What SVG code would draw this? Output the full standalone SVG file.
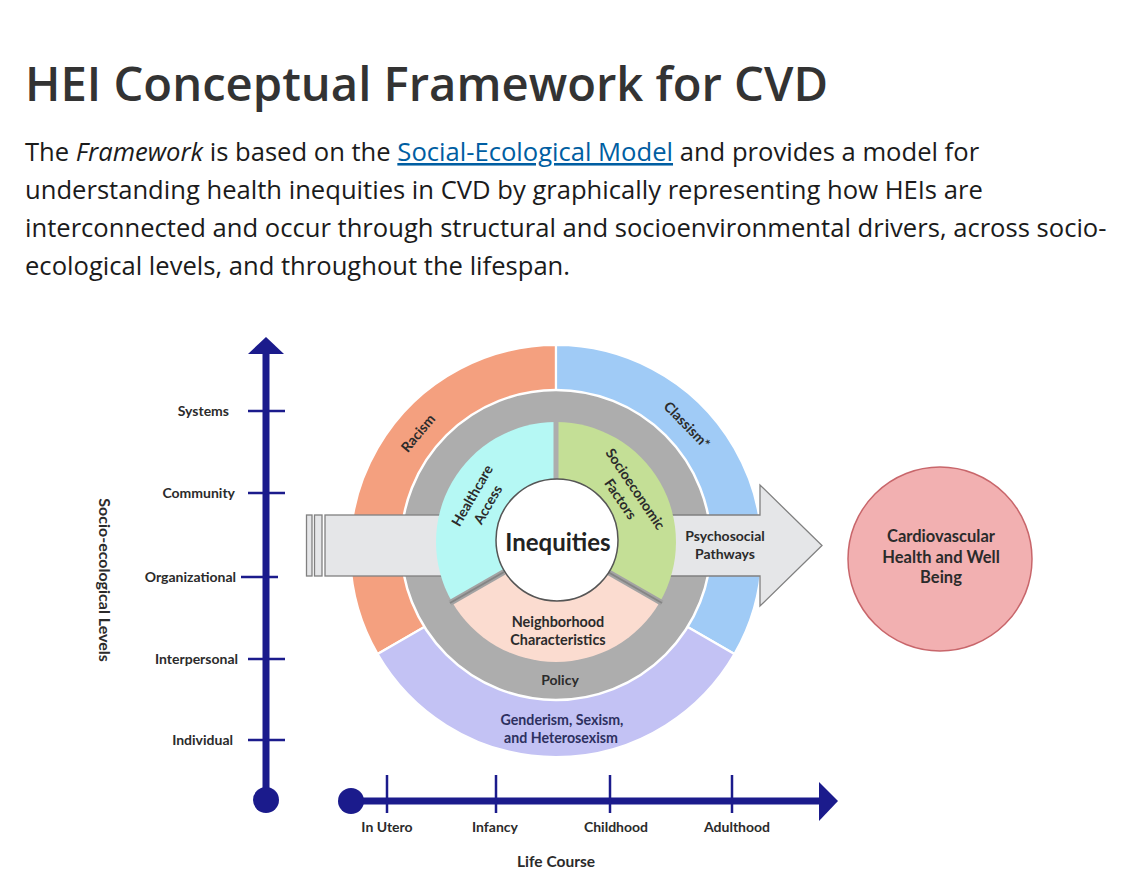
<svg xmlns="http://www.w3.org/2000/svg" width="1124" height="885" viewBox="0 0 1124 885">
<style>
.title{font-family:"Open Sans","Liberation Sans",sans-serif;font-weight:600;font-size:47.2px;fill:#333333}
.body{font-family:"Open Sans","Liberation Sans",sans-serif;font-size:25.6px;fill:#1b1b1b}
.lbl{font-family:Lato,"Liberation Sans",sans-serif;font-weight:700;font-size:14px;fill:#2b2b2b}
.c{text-anchor:middle}
.e{text-anchor:end}
.axis{stroke:#1b1b8c;fill:none}
.tick{stroke:#1b1b8c;stroke-width:2.5}
.arr{fill:#e5e6e8;stroke:#808080;stroke-width:1.3}
.sep{stroke:#ffffff;stroke-width:2.2}
</style>
<rect width="1124" height="885" fill="#ffffff"/>

<g id="heading">
<text class="title" x="25" y="101">HEI Conceptual Framework for CVD</text>
<text class="body" x="25" y="161">The <tspan font-style="italic">Framework</tspan> is based on the <tspan fill="#005ea2" text-decoration="underline">Social-Ecological Model</tspan> and provides a model for</text>
<text class="body" x="25" y="199">understanding health inequities in CVD by graphically representing how HEIs are</text>
<text class="body" x="25" y="237">interconnected and occur through structural and socioenvironmental drivers, across socio-</text>
<text class="body" x="25" y="275">ecological levels, and throughout the lifespan.</text>
</g>

<g id="outer-ring">
<path id="racism" d="M556 551 L377.6 654 A206 206 0 0 1 556 345 Z" fill="#f4a07f" class="sep"/>
<path id="classism" d="M556 551 L556 345 A206 206 0 0 1 734.4 654 Z" fill="#a0cbf6" class="sep"/>
<path id="genderism" d="M556 551 L734.4 654 A206 206 0 0 1 377.6 654 Z" fill="#c3c2f4" class="sep"/>
</g>

<g id="policy">
<circle cx="556" cy="545" r="155" fill="#adadad" stroke="#ffffff" stroke-width="2.5"/>
</g>

<g id="connectors">
<g id="left-arrow">
<rect class="arr" x="306.5" y="515" width="5.5" height="61"/>
<rect class="arr" x="314.5" y="515" width="7.5" height="61"/>
<rect class="arr" x="325" y="515" width="170" height="61"/>
</g>
<path id="right-arrow" class="arr" d="M640 515 L760 515 L760 485 L822 545.5 L760 606 L760 576 L640 576 Z"/>
</g>

<g id="inner-sectors">
<path id="healthcare" d="M556 542 L452.1 602 A120 120 0 0 1 556 422 Z" fill="#b5f8f4"/>
<path id="socioeconomic" d="M556 542 L556 422 A120 120 0 0 1 659.9 602 Z" fill="#c4df96"/>
<path id="neighborhood" d="M556 542 L659.9 602 A120 120 0 0 1 452.1 602 Z" fill="#fbdcd0"/>
<line x1="556" y1="420" x2="556" y2="485" stroke="#adadad" stroke-width="5"/>
<line x1="504" y1="572" x2="450" y2="603" stroke="#a3a3a3" stroke-width="6"/>
<line x1="504" y1="572" x2="450" y2="603" stroke="#858585" stroke-width="2"/>
<line x1="608" y1="572" x2="662" y2="603" stroke="#a3a3a3" stroke-width="6"/>
<line x1="608" y1="572" x2="662" y2="603" stroke="#858585" stroke-width="2"/>
</g>

<g id="inequities">
<circle cx="557" cy="540" r="61" fill="#ffffff" stroke="#555555" stroke-width="1.5"/>
<text class="lbl c" x="558" y="551" style="font-size:24px;fill:#222">Inequities</text>
</g>

<g id="ring-labels">
<text class="lbl c" transform="translate(418 433) rotate(-50)" y="5">Racism</text>
<text class="lbl c" transform="translate(687 425) rotate(46)" y="5">Classism*</text>
<text class="lbl c" transform="translate(480 500) rotate(-60)"><tspan x="0" y="-4">Healthcare</tspan><tspan x="0" y="14">Access</tspan></text>
<text class="lbl c" transform="translate(628 494) rotate(56)"><tspan x="0" y="-4">Socioeconomic</tspan><tspan x="0" y="14">Factors</tspan></text>
<text class="lbl c" x="558" y="627" style="font-size:14.4px">Neighborhood</text>
<text class="lbl c" x="558" y="645" style="font-size:14.4px">Characteristics</text>
<text class="lbl c" x="560" y="685">Policy</text>
<text class="lbl c" x="562" y="725" style="fill:#2d3060;font-size:14.2px">Genderism, Sexism,</text>
<text class="lbl c" x="561" y="743" style="fill:#2d3060;font-size:14.2px">and Heterosexism</text>
<text class="lbl c" x="725" y="541">Psychosocial</text>
<text class="lbl c" x="725" y="559">Pathways</text>
</g>

<g id="cvd">
<circle cx="940" cy="559" r="92" fill="#f2b0b1" stroke="#c8666b" stroke-width="1.5"/>
<text class="lbl c" x="941" y="542" style="font-size:16.5px">Cardiovascular</text>
<text class="lbl c" x="941" y="563" style="font-size:16.5px">Health and Well</text>
<text class="lbl c" x="941" y="583" style="font-size:16.5px">Being</text>
</g>

<g id="levels-axis">
<line class="axis" x1="266" y1="352" x2="266" y2="800" stroke-width="7"/>
<polygon points="266,337 284,354 248,354" fill="#1b1b8c"/>
<circle cx="266" cy="800" r="13" fill="#1b1b8c"/>
<line class="tick" x1="248" y1="411" x2="285" y2="411"/>
<line class="tick" x1="248" y1="493" x2="285" y2="493"/>
<line class="tick" x1="241" y1="577" x2="278" y2="577"/>
<line class="tick" x1="248" y1="659" x2="285" y2="659"/>
<line class="tick" x1="248" y1="740" x2="285" y2="740"/>
<text class="lbl e" x="229" y="416">Systems</text>
<text class="lbl e" x="235" y="498">Community</text>
<text class="lbl e" x="236" y="582">Organizational</text>
<text class="lbl e" x="238" y="664">Interpersonal</text>
<text class="lbl e" x="233" y="745">Individual</text>
<text class="lbl c" transform="translate(104 580) rotate(90)" y="5" style="font-size:16px">Socio-ecological Levels</text>
</g>

<g id="life-axis">
<line class="axis" x1="351" y1="801" x2="822" y2="801" stroke-width="7"/>
<polygon points="838,801 819,782 819,821" fill="#1b1b8c"/>
<circle cx="351" cy="801" r="13" fill="#1b1b8c"/>
<line class="tick" x1="387" y1="775" x2="387" y2="813"/>
<line class="tick" x1="496" y1="775" x2="496" y2="813"/>
<line class="tick" x1="610" y1="775" x2="610" y2="813"/>
<line class="tick" x1="732" y1="775" x2="732" y2="813"/>
<text class="lbl c" x="387" y="832">In Utero</text>
<text class="lbl c" x="495" y="832">Infancy</text>
<text class="lbl c" x="616" y="832">Childhood</text>
<text class="lbl c" x="737" y="832">Adulthood</text>
<text class="lbl c" x="556" y="867" style="font-size:15.5px">Life Course</text>
</g>
</svg>
